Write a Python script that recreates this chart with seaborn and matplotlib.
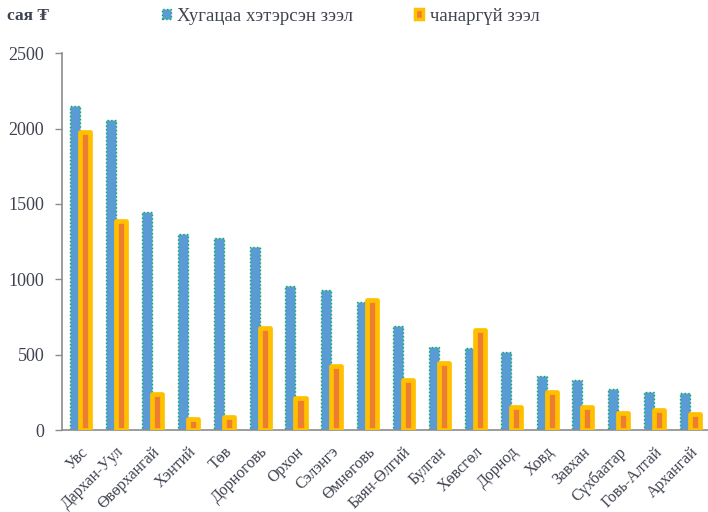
import matplotlib
matplotlib.use("Agg")
import matplotlib.pyplot as plt
import seaborn as sns
import pandas as pd
from matplotlib.patches import Patch
from matplotlib.ticker import FixedLocator

categories = ["Увс", "Дархан-Уул", "Өвөрхангай", "Хэнтий", "Төв", "Дорноговь",
              "Орхон", "Сэлэнгэ", "Өмнөговь", "Баян-Өлгий", "Булган", "Хөвсгөл",
              "Дорнод", "Ховд", "Завхан", "Сүхбаатар", "Говь-Алтай", "Архангай"]
overdue = [2150, 2060, 1445, 1300, 1273, 1213, 955, 928, 850, 690, 552, 545,
           519, 358, 332, 270, 254, 245]
nonperf = [1980, 1390, 240, 75, 85, 680, 215, 425, 860, 330, 445, 665,
           155, 250, 155, 110, 135, 105]
series_names = ["Хугацаа хэтэрсэн зээл", "чанаргүй зээл"]
yticks = [0, 500, 1000, 1500, 2000, 2500]
unit_label = "сая ₮"

BLUE = "#5B9BD5"
ORANGE = "#ED7D31"
YELLOW = "#FFC000"
GREEN = "#00B050"
TXT = "#3F4350"
AX = "#8C8C8C"

df = pd.DataFrame({
    "region": categories * 2,
    "value": overdue + nonperf,
    "series": [series_names[0]] * len(categories) + [series_names[1]] * len(categories),
})

sns.set_theme(style="white")
plt.rcParams["font.family"] = ["Liberation Serif", "DejaVu Serif"]

fig = plt.figure(figsize=(7.08, 5.12), dpi=100)
ax = fig.add_axes([0.088, 0.160, 0.912, 0.736])

sns.barplot(data=df, x="region", y="value", hue="series", hue_order=series_names,
            palette=[BLUE, ORANGE], width=0.56, dodge=True, legend=False, ax=ax,
            saturation=1)

for bar in ax.containers[0]:
    bar.set_facecolor(BLUE)
    bar.set_edgecolor(GREEN)
    bar.set_linestyle(":")
    bar.set_linewidth(1.0)
    bar.set_zorder(2)
for bar in ax.containers[1]:
    bar.set_facecolor(ORANGE)
    bar.set_edgecolor(YELLOW)
    bar.set_linewidth(3.4)
    bar.set_joinstyle("round")
    bar.set_zorder(3)

n = len(categories)
ax.set_xlim(-0.5, n - 0.5)
ax.set_ylim(0, 2500)
ax.set_yticks(yticks)
ax.set_yticklabels([str(t) for t in yticks], fontsize=13, color=TXT)
ax.set_xlabel("")
ax.set_ylabel("")

ax.xaxis.set_minor_locator(FixedLocator([i - 0.5 for i in range(n + 1)]))
ax.tick_params(axis="x", which="major", length=0, pad=10)
ax.tick_params(axis="x", which="minor", length=5, width=1, color=AX, direction="out")
ax.tick_params(axis="y", which="major", length=5, width=1, color=AX, direction="out", pad=8,
               left=True)
ax.set_xticks(range(n))
ax.set_xticklabels(categories, rotation=45, ha="right", rotation_mode="anchor",
                   fontsize=11.5, color=TXT)

for side in ["top", "right"]:
    ax.spines[side].set_visible(False)
for side in ["left", "bottom"]:
    ax.spines[side].set_color(AX)
    ax.spines[side].set_linewidth(1.2)

fig.text(0.010, 0.968, unit_label, fontsize=12.5, fontweight="bold", color=TXT,
         ha="left", va="center")

handles = [Patch(facecolor=BLUE, edgecolor=GREEN, linestyle=":", linewidth=1.0),
           Patch(facecolor=ORANGE, edgecolor=YELLOW, linewidth=2.5)]
leg = fig.legend(handles, series_names, loc="center left", bbox_to_anchor=(0.229, 0.968),
                 ncol=2, frameon=False, fontsize=13.5, borderpad=0, borderaxespad=0,
                 handlelength=0.45, handleheight=0.45,
                 handletextpad=0.35, columnspacing=3.3)
for t in leg.get_texts():
    t.set_color(TXT)

fig.savefig("out.png", dpi=100)
